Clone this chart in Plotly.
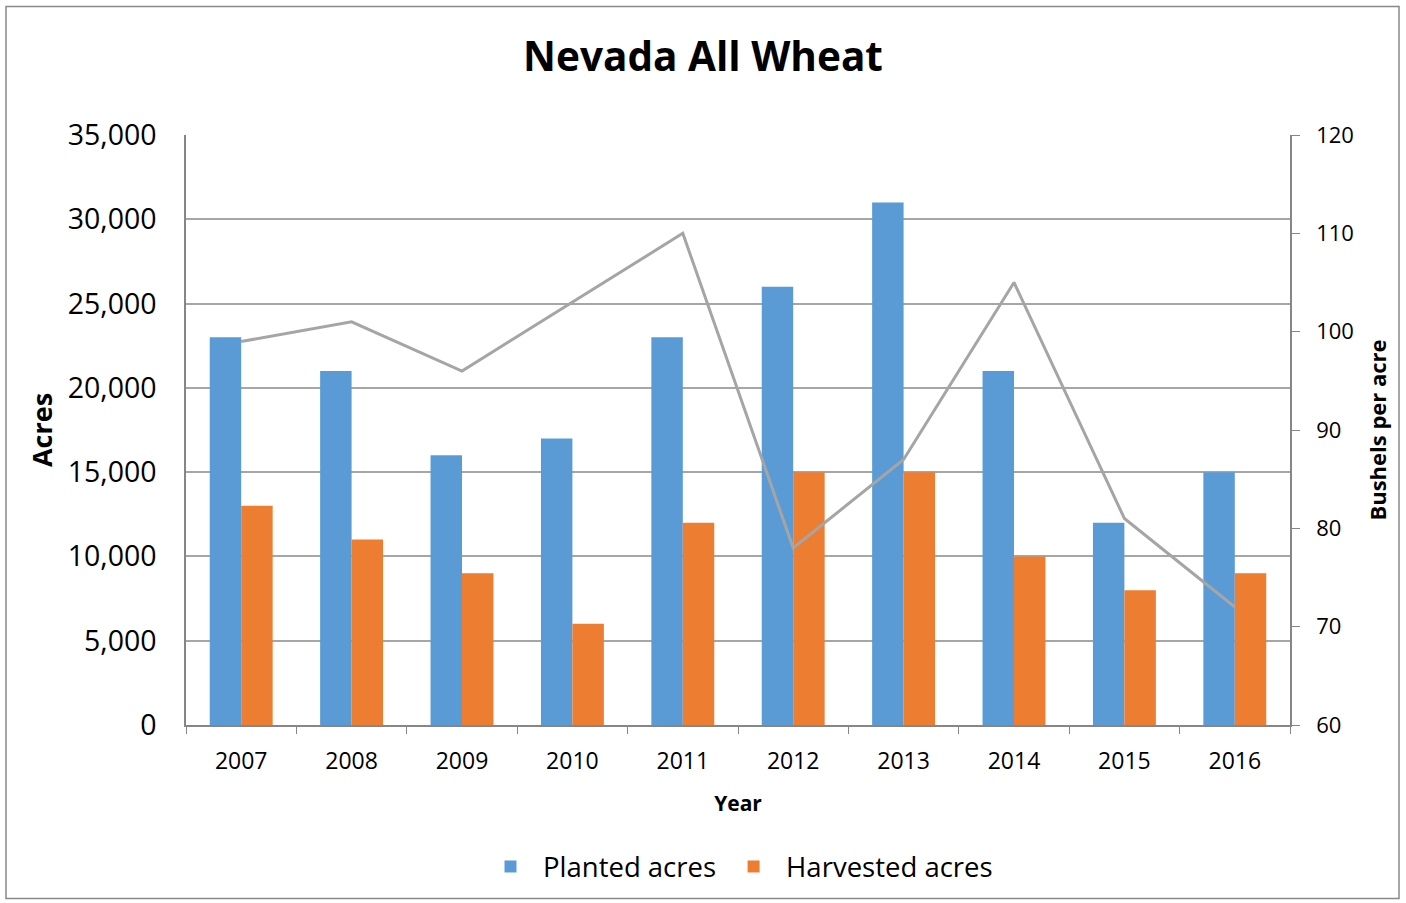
import plotly.graph_objects as go

years = ["2007", "2008", "2009", "2010", "2011", "2012", "2013", "2014", "2015", "2016"]
planted = [23000, 21000, 16000, 17000, 23000, 26000, 31000, 21000, 12000, 15000]
harvested = [13000, 11000, 9000, 6000, 12000, 15000, 15000, 10000, 8000, 9000]
yield_bpa = [99, 101, 96, 103, 110, 78, 87, 105, 81, 72]

FONT = "Open Sans"
AX = "#868686"
GRID = "#a6a6a6"

fig = go.Figure()
fig.add_trace(go.Bar(x=years, y=planted, name="Planted acres",
                     marker=dict(color="#5B9BD5", line=dict(width=0))))
fig.add_trace(go.Bar(x=years, y=harvested, name="Harvested acres",
                     marker=dict(color="#ED7D31", line=dict(width=0))))
fig.add_trace(go.Scatter(x=years, y=yield_bpa, name="Bushels per acre", yaxis="y2",
                         mode="lines", line=dict(color="#A5A5A5", width=3),
                         showlegend=False))

fig.update_layout(
    width=1406, height=903,
    margin=dict(l=186, r=116, t=135, b=174),
    paper_bgcolor="white", plot_bgcolor="white",
    font=dict(family=FONT, color="black"),
    barmode="group", bargap=0.43, bargroupgap=0,
    title=dict(text="<b>Nevada All Wheat</b>", x=0.5, xanchor="center",
               y=1 - 57 / 903, yanchor="middle", yref="container",
               font=dict(size=40.5, family=FONT, color="black")),
    xaxis=dict(
        showline=True, linecolor=AX, linewidth=1.5,
        ticks="outside", tickson="boundaries", ticklen=7, tickcolor=AX,
        tickfont=dict(size=23), showgrid=False, ticklabelstandoff=15,
        title=dict(text="<b>Year</b>", font=dict(size=21), standoff=21),
    ),
    yaxis=dict(
        range=[0, 35000], dtick=5000, tickformat=",d",
        showline=True, linecolor=AX, linewidth=1.5,
        showgrid=True, gridcolor=GRID, gridwidth=1.5,
        ticks="", ticklabelstandoff=22,
        tickfont=dict(size=28.5), zeroline=False,
        title=dict(text="<b>Acres</b>", font=dict(size=27), standoff=7),
    ),
    yaxis2=dict(
        range=[60, 120], dtick=10, overlaying="y", side="right",
        showline=True, linecolor=AX, linewidth=1.5,
        ticks="outside", ticklen=8, tickcolor=AX,
        showgrid=False, zeroline=False, tickfont=dict(size=22),
        ticklabelstandoff=12,
        title=dict(text="<b>Bushels per acre</b>", font=dict(size=22), standoff=18),
    ),
    legend=dict(orientation="h", x=0.5, xanchor="center", y=-0.24, yanchor="middle",
                font=dict(size=27.5), itemsizing="constant", itemwidth=55,
                traceorder="normal"),
    shapes=[dict(type="rect", xref="paper", yref="paper",
                 x0=(6 - 186) / 1104, x1=(1399 - 186) / 1104,
                 y0=(727 - 901) / 592, y1=(727 - 6) / 592,
                 line=dict(color="#898989", width=1.5), layer="below")],
)

fig.write_html("out.html", config={"displayModeBar": False},
               post_script="document.body.style.margin='0';document.body.style.overflow='hidden';")
